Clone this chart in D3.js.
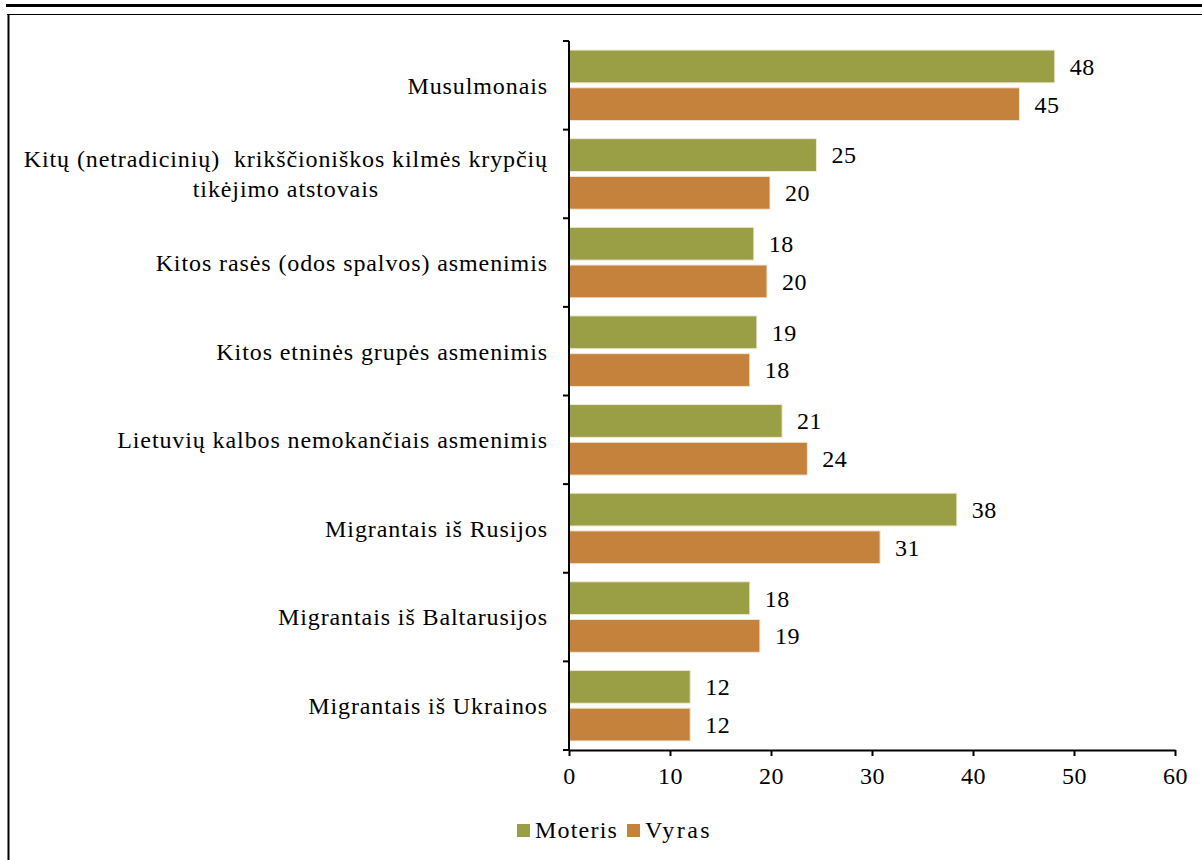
<!DOCTYPE html>
<html>
<head>
<meta charset="utf-8">
<script src="https://cdn.jsdelivr.net/npm/d3@7"></script>
<style>
  body { margin: 0; background: #fff; }
  svg { display: block; }
  text { font-family: "Liberation Serif", "Times New Roman", serif; fill: #000; }
</style>
</head>
<body>
<svg id="chart" width="1202" height="860"></svg>
<script>
// ---- data ----
const categories = [
  ["Musulmonais"],
  ["Kitų (netradicinių)  krikščioniškos kilmės krypčių", "tikėjimo atstovais"],
  ["Kitos rasės (odos spalvos) asmenimis"],
  ["Kitos etninės grupės asmenimis"],
  ["Lietuvių kalbos nemokančiais asmenimis"],
  ["Migrantais iš Rusijos"],
  ["Migrantais iš Baltarusijos"],
  ["Migrantais iš Ukrainos"]
];
const seriesNames = ["Moteris", "Vyras"];
const moteris = [48.1, 24.5, 18.3, 18.6, 21.1, 38.4, 17.9, 12.0];
const vyras   = [44.6, 19.9, 19.6, 17.9, 23.6, 30.8, 18.9, 12.0];
const moterisLabels = ["48", "25", "18", "19", "21", "38", "18", "12"];
const vyrasLabels   = ["45", "20", "20", "18", "24", "31", "19", "12"];
const xTicks = [0, 10, 20, 30, 40, 50, 60];
const colors = ["#9a9e45", "#c4823d"];

// ---- layout ----
const svg = d3.select("#chart");
const mLeft = 569, mRight = 1175, mTop = 41, mBottom = 750;

const x = d3.scaleLinear().domain([0, 60]).range([mLeft, mRight]);
const y = d3.scaleBand().domain(d3.range(categories.length)).range([mTop, mBottom]).paddingInner(0).paddingOuter(0);
const inner = d3.scaleBand().domain([0, 1]).range([0, y.bandwidth()]).paddingInner(0.13).paddingOuter(0.24);

// frame
svg.append("line").attr("x1", 6).attr("x2", 1202).attr("y1", 5.5).attr("y2", 5.5)
  .attr("stroke", "#000").attr("stroke-width", 3);
svg.append("line").attr("x1", 7).attr("x2", 1202).attr("y1", 14.5).attr("y2", 14.5)
  .attr("stroke", "#000").attr("stroke-width", 1);
svg.append("line").attr("x1", 8.5).attr("x2", 8.5).attr("y1", 14).attr("y2", 860)
  .attr("stroke", "#000").attr("stroke-width", 2);

// bars
const series = [moteris, vyras];
const labels = [moterisLabels, vyrasLabels];
series.forEach((vals, si) => {
  const g = svg.append("g");
  g.selectAll("rect").data(vals).join("rect")
    .attr("x", x(0))
    .attr("y", (d, i) => y(i) + inner(si))
    .attr("width", d => x(d) - x(0))
    .attr("height", inner.bandwidth())
    .attr("fill", colors[si])
    .attr("stroke", "#efe9d6")
    .attr("stroke-width", 1);
  g.selectAll("text").data(vals).join("text")
    .attr("x", d => x(d) + 15)
    .attr("y", (d, i) => y(i) + inner(si) + inner.bandwidth() / 2)
    .attr("dy", "0.35em")
    .attr("font-size", 24)
    .attr("letter-spacing", 0.5)
    .text((d, i) => labels[si][i]);
});

// y axis
svg.append("line").attr("x1", mLeft).attr("x2", mLeft).attr("y1", mTop).attr("y2", mBottom)
  .attr("stroke", "#000").attr("stroke-width", 2);
const yTickPos = d3.range(categories.length + 1).map(i => mTop + i * y.bandwidth());
svg.selectAll(".ytick").data(yTickPos).join("line")
  .attr("class", "ytick")
  .attr("x1", mLeft - 6).attr("x2", mLeft).attr("y1", d => d).attr("y2", d => d)
  .attr("stroke", "#000").attr("stroke-width", 2);

// category labels
const catG = svg.append("g");
categories.forEach((lines, i) => {
  const cy = y(i) + y.bandwidth() / 2;
  const lh = 30;
  const t = catG.append("text")
    .attr("font-size", 24)
    .attr("letter-spacing", 0.9)
    .style("white-space", "pre")
    .attr("xml:space", "preserve");
  const tspans = lines.map((ln, k) => t.append("tspan")
    .attr("y", cy + (k - (lines.length - 1) / 2) * lh)
    .attr("dy", "0.35em")
    .text(ln));
  const widths = tspans.map(ts => ts.node().getComputedTextLength());
  const maxW = Math.max(...widths);
  const cx = 548 - maxW / 2;
  tspans.forEach(ts => ts.attr("x", cx).attr("text-anchor", "middle"));
});

// x axis
const xAxis = d3.axisBottom(x).tickValues(xTicks).tickSize(6).tickSizeOuter(0).tickPadding(11);
const xg = svg.append("g").attr("transform", `translate(0,${mBottom})`).call(xAxis);
xg.select(".domain").attr("stroke-width", 2);
xg.selectAll(".tick line").attr("stroke-width", 2);
xg.selectAll(".tick text")
  .attr("font-family", "Liberation Serif, Times New Roman, serif")
  .attr("font-size", 24)
  .attr("letter-spacing", 0.5)
  .attr("fill", "#000");

// legend
const legend = svg.append("g");
const legendX = [517, 627];
const legendSpacing = [1.2, 2.5];
seriesNames.forEach((name, i) => {
  legend.append("rect").attr("x", legendX[i]).attr("y", 824).attr("width", 13).attr("height", 13)
    .attr("fill", colors[i]);
  legend.append("text").attr("x", legendX[i] + 18).attr("y", 830).attr("dy", "0.35em")
    .attr("font-size", 24).attr("letter-spacing", legendSpacing[i]).text(name);
});
</script>
</body>
</html>
